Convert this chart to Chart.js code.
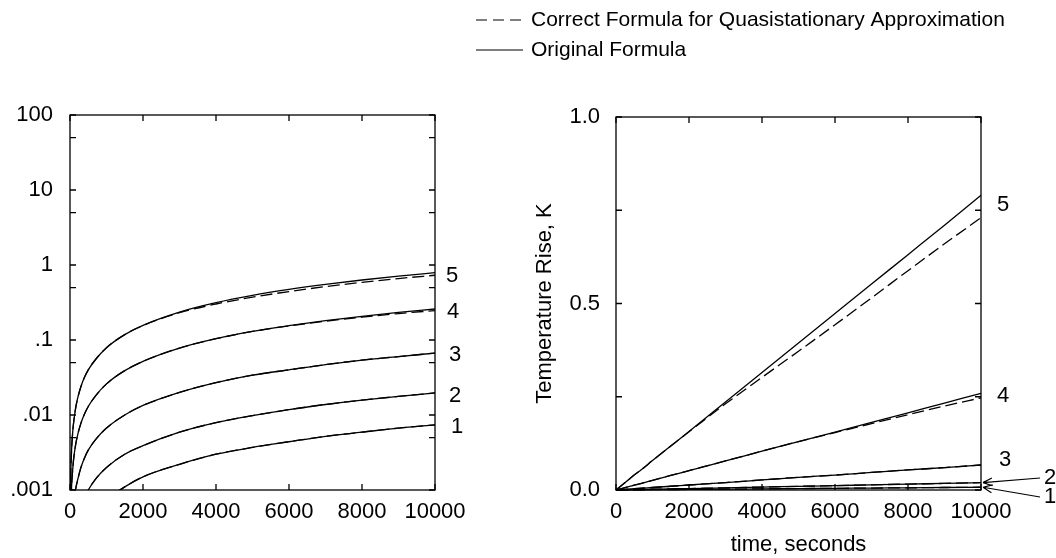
<!DOCTYPE html>
<html>
<head>
<meta charset="utf-8">
<script src="https://cdn.jsdelivr.net/npm/chart.js@4.4.0/dist/chart.umd.min.js"></script>
<style>
  html, body { margin: 0; padding: 0; background: #fff; }
  #wrap { position: relative; width: 1056px; height: 558px; }
  #wrap canvas { position: absolute; left: 0; top: 0; }
</style>
</head>
<body>
<div id="wrap">
  <canvas id="logChart" width="1056" height="558"></canvas>
  <canvas id="linChart" width="1056" height="558"></canvas>
</div>
<script>
// time axis (seconds)
const times = [0, 10, 20, 30, 50, 75, 100, 150, 200, 300, 400, 500, 700, 1000, 1500, 2000, 3000, 4000, 5000, 6000, 7000, 8000, 9000, 10000];

// Original formula, curves 1..5 (K)
const curve1 = [0, 0.0000074, 0.000015, 0.000022, 0.000037, 0.000056, 0.000074, 0.00011, 0.00015, 0.00022, 0.0003, 0.00037, 0.00052, 0.00074, 0.0011, 0.0015, 0.0022, 0.003, 0.0037, 0.0044, 0.0052, 0.0059, 0.0067, 0.0074];
const curve2 = [0, 0.00002, 0.00004, 0.00006, 0.0001, 0.00015, 0.0002, 0.0003, 0.0004, 0.0006, 0.0008, 0.001, 0.0014, 0.002, 0.003, 0.0039, 0.0059, 0.0079, 0.0098, 0.0118, 0.0138, 0.0158, 0.0177, 0.0197];
const curve3 = [0, 0.000067, 0.00013, 0.0002, 0.00034, 0.0005, 0.00067, 0.001, 0.0013, 0.002, 0.0027, 0.0034, 0.0047, 0.0067, 0.01, 0.0134, 0.02, 0.027, 0.034, 0.04, 0.047, 0.054, 0.06, 0.067];
const curve4 = [0, 0.00026, 0.00052, 0.00078, 0.0013, 0.0019, 0.0026, 0.0039, 0.0052, 0.0078, 0.0104, 0.013, 0.018, 0.026, 0.039, 0.052, 0.078, 0.104, 0.13, 0.155, 0.181, 0.207, 0.233, 0.259];
const curve5 = [0, 0.0008, 0.0016, 0.0024, 0.004, 0.006, 0.008, 0.012, 0.016, 0.024, 0.032, 0.04, 0.055, 0.079, 0.118, 0.157, 0.236, 0.315, 0.394, 0.473, 0.552, 0.631, 0.71, 0.79];

// Correct formula (quasistationary) - 1..3 lie on the original curves
const correct1 = curve1;
const correct2 = curve2;
const correct3 = curve3;
const correct4 = [0, 0.00026, 0.00052, 0.00078, 0.0013, 0.0019, 0.0026, 0.0039, 0.0052, 0.0078, 0.0104, 0.013, 0.018, 0.026, 0.039, 0.052, 0.078, 0.104, 0.13, 0.154, 0.178, 0.202, 0.225, 0.247];
const correct5 = [0, 0.0008, 0.0016, 0.0024, 0.004, 0.006, 0.008, 0.012, 0.016, 0.024, 0.032, 0.04, 0.055, 0.079, 0.118, 0.156, 0.231, 0.302, 0.372, 0.443, 0.515, 0.588, 0.66, 0.73];

const curveNames = ['1', '2', '3', '4', '5'];
const originals = [curve1, curve2, curve3, curve4, curve5];
const corrects = [correct1, correct2, correct3, correct4, correct5];

// tick labels
const xTickLabels = ['0', '2000', '4000', '6000', '8000', '10000'];
const logTicks = [0.001, 0.01, 0.1, 1, 10, 100];
const logTickLabels = ['.001', '.01', '.1', '1', '10', '100'];
const logMinorTicks = [0.005, 0.05, 0.5, 5, 50];
const linTickLabels = ['0.0', '', '0.5', '', '1.0'];
const legendLabels = ['Correct Formula for Quasistationary Approximation', 'Original Formula'];

const INK = '#000';
const FONT = '"Liberation Sans", Arial, Helvetica, sans-serif';
Chart.defaults.font.family = FONT;
Chart.defaults.font.size = 22;
Chart.defaults.color = INK;

function series(values, dashed, clip) {
    return {
        data: times.map((t, i) => ({ x: t, y: values[i] })),
        borderColor: INK,
        borderWidth: 1.3,
        borderDash: dashed ? [12, 5] : [],
        pointRadius: 0,
        cubicInterpolationMode: 'monotone',
        fill: false,
        clip: clip
    };
}

function buildDatasets(clip) {
    const sets = [];
    originals.forEach(v => sets.push(series(v, false, clip)));
    corrects.forEach(v => sets.push(series(v, true, clip)));
    return sets;
}

// box round the plot area with inward ticks on all four sides
const framePlugin = {
    id: 'frameTicks',
    afterDraw(chart, args, opts) {
        const { ctx, chartArea: a, scales } = chart;
        const len = 6;
        ctx.save();
        ctx.strokeStyle = INK;
        ctx.lineWidth = 1.3;
        ctx.strokeRect(a.left, a.top, a.right - a.left, a.bottom - a.top);
        ctx.beginPath();
        scales.x.ticks.forEach(t => {
            const px = scales.x.getPixelForValue(t.value);
            ctx.moveTo(px, a.bottom); ctx.lineTo(px, a.bottom - len);
            ctx.moveTo(px, a.top); ctx.lineTo(px, a.top + len);
        });
        scales.y.ticks.map(t => t.value).concat(opts.minor || []).forEach(v => {
            const py = scales.y.getPixelForValue(v);
            ctx.moveTo(a.left, py); ctx.lineTo(a.left + len, py);
            ctx.moveTo(a.right, py); ctx.lineTo(a.right - len, py);
        });
        ctx.stroke();
        ctx.restore();
    }
};

// curve numbers at the right end of each line, optional arrow
const labelPlugin = {
    id: 'curveLabels',
    afterDraw(chart, args, opts) {
        const { ctx, chartArea: a, scales } = chart;
        ctx.save();
        ctx.font = '22px ' + FONT;
        ctx.fillStyle = INK;
        ctx.strokeStyle = INK;
        ctx.lineWidth = 1.2;
        ctx.textAlign = 'center';
        ctx.textBaseline = 'middle';
        (opts.items || []).forEach(it => {
            const vals = originals[it.curve];
            const py = scales.y.getPixelForValue(vals[vals.length - 1]);
            const lx = a.right + it.dx;
            const ly = it.fromBottom !== undefined ? a.bottom + it.fromBottom : py + it.dy;
            ctx.fillText(curveNames[it.curve], lx, ly);
            if (it.arrow) {
                const fx = lx - 10, fy = ly;
                const tx = a.right + 2, ty = py;
                const ang = Math.atan2(ty - fy, tx - fx);
                ctx.beginPath();
                ctx.moveTo(fx, fy); ctx.lineTo(tx, ty);
                ctx.moveTo(tx, ty); ctx.lineTo(tx - 10 * Math.cos(ang - 0.4), ty - 10 * Math.sin(ang - 0.4));
                ctx.moveTo(tx, ty); ctx.lineTo(tx - 10 * Math.cos(ang + 0.4), ty - 10 * Math.sin(ang + 0.4));
                ctx.stroke();
            }
        });
        ctx.restore();
    }
};

// two-line legend at the top (dashed / solid samples)
const legendPlugin = {
    id: 'lineLegend',
    afterDraw(chart, args, opts) {
        const ctx = chart.ctx;
        ctx.save();
        ctx.font = opts.fontSize + 'px ' + FONT;
        ctx.fillStyle = INK;
        ctx.strokeStyle = INK;
        ctx.lineWidth = 1.2;
        ctx.textAlign = 'left';
        ctx.textBaseline = 'middle';
        legendLabels.forEach((text, i) => {
            const y = opts.y + i * opts.rowGap;
            ctx.setLineDash(i === 0 ? [11, 6] : []);
            ctx.beginPath();
            ctx.moveTo(opts.x, y);
            ctx.lineTo(opts.x + opts.sample, y);
            ctx.stroke();
            ctx.setLineDash([]);
            ctx.fillText(text, opts.x + opts.sample + opts.gap, y);
        });
        ctx.restore();
    }
};

const hiddenGrid = { display: false, drawTicks: false };

// left panel: log scale
new Chart(document.getElementById('logChart'), {
    type: 'line',
    data: { datasets: buildDatasets(0) },
    options: {
        responsive: false,
        animation: false,
        layout: { padding: { left: 0, right: 621, top: 115, bottom: 28 } },
        plugins: {
            legend: { display: false },
            tooltip: { enabled: false },
            frameTicks: { minor: logMinorTicks },
            curveLabels: {
                items: [
                    { curve: 4, dx: 17, dy: 3.5 },
                    { curve: 3, dx: 18, dy: 2.5 },
                    { curve: 2, dx: 20, dy: 1.5 },
                    { curve: 1, dx: 20, dy: 3.5 },
                    { curve: 0, dx: 22, dy: 2.5 }
                ]
            }
        },
        scales: {
            x: {
                type: 'linear', min: 0, max: 10000,
                ticks: { stepSize: 2000, autoSkip: false, maxRotation: 0, padding: 9,
                         callback: (v, i) => xTickLabels[i] },
                grid: hiddenGrid, border: { display: false },
                afterFit: s => { s.height = 40; }
            },
            y: {
                type: 'logarithmic', min: 0.001, max: 100,
                afterBuildTicks: s => { s.ticks = logTicks.map(v => ({ value: v })); },
                ticks: { autoSkip: false, padding: 17, callback: (v, i) => logTickLabels[i] },
                grid: hiddenGrid, border: { display: false },
                afterFit: s => { s.width = 70; }
            }
        }
    },
    plugins: [framePlugin, labelPlugin]
});

// right panel: linear scale
new Chart(document.getElementById('linChart'), {
    type: 'line',
    data: { datasets: buildDatasets(2) },
    options: {
        responsive: false,
        animation: false,
        layout: { padding: { left: 528, right: 75, top: 117, bottom: 0 } },
        plugins: {
            legend: { display: false },
            tooltip: { enabled: false },
            frameTicks: {},
            curveLabels: {
                items: [
                    { curve: 4, dx: 22, dy: 10 },
                    { curve: 3, dx: 22, dy: 3 },
                    { curve: 2, dx: 24, dy: -5 },
                    { curve: 1, dx: 69, fromBottom: -12, arrow: true },
                    { curve: 0, dx: 69, fromBottom: 7, arrow: true }
                ]
            },
            lineLegend: { x: 476, y: 20, rowGap: 30, sample: 47, gap: 8, fontSize: 21 }
        },
        scales: {
            x: {
                type: 'linear', min: 0, max: 10000,
                ticks: { stepSize: 2000, autoSkip: false, maxRotation: 0, padding: 9,
                         callback: (v, i) => xTickLabels[i] },
                title: { display: true, text: 'time, seconds', padding: { top: 0, bottom: 0 } },
                grid: hiddenGrid, border: { display: false },
                afterFit: s => { s.height = 68; }
            },
            y: {
                type: 'linear', min: 0, max: 1,
                ticks: { stepSize: 0.25, autoSkip: false, padding: 16,
                         callback: (v, i) => linTickLabels[i] },
                title: { display: true, text: 'Temperature Rise, K', padding: { top: 4, bottom: 0 } },
                grid: hiddenGrid, border: { display: false },
                afterFit: s => { s.width = 88; }
            }
        }
    },
    plugins: [framePlugin, labelPlugin, legendPlugin]
});
</script>
</body>
</html>
